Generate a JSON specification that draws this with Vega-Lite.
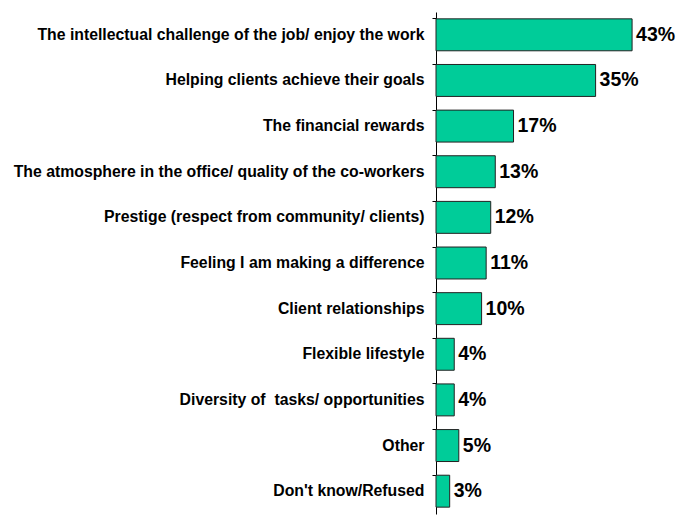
{
  "$schema": "https://vega.github.io/schema/vega-lite/v6.json",
  "autosize": "none",
  "padding": {"left": 436, "top": 12, "right": 13, "bottom": 1},
  "width": 228,
  "height": 502,
  "background": "white",
  "data": {"values": [
    {"reason": "The intellectual challenge of the job/ enjoy the work", "pct": 43, "label": "43%"},
    {"reason": "Helping clients achieve their goals", "pct": 35, "label": "35%"},
    {"reason": "The financial rewards", "pct": 17, "label": "17%"},
    {"reason": "The atmosphere in the office/ quality of the co-workers", "pct": 13, "label": "13%"},
    {"reason": "Prestige (respect from community/ clients)", "pct": 12, "label": "12%"},
    {"reason": "Feeling I am making a difference", "pct": 11, "label": "11%"},
    {"reason": "Client relationships", "pct": 10, "label": "10%"},
    {"reason": "Flexible lifestyle", "pct": 4, "label": "4%"},
    {"reason": "Diversity of\u00a0 tasks/ opportunities", "pct": 4, "label": "4%"},
    {"reason": "Other", "pct": 5, "label": "5%"},
    {"reason": "Don't know/Refused", "pct": 3, "label": "3%"}
  ]},
  "encoding": {
    "y": {"field": "reason", "type": "nominal", "sort": null,
      "scale": {"paddingInner": 0.3, "paddingOuter": 0.15},
      "axis": {"title": null, "domainColor": "black", "tickColor": "black", "tickSize": 4, "bandPosition": 0,
        "labelFont": "Liberation Sans", "labelFontWeight": "bold", "labelFontSize": 15.8, "labelColor": "black",
        "labelPadding": 8, "labelLimit": 0, "grid": false}},
    "x": {"field": "pct", "type": "quantitative", "scale": {"domain": [0, 50]}, "axis": null}
  },
  "layer": [
    {"mark": {"type": "bar", "color": "#00CC99", "stroke": "#222222", "strokeWidth": 1}},
    {"mark": {"type": "text", "align": "left", "dx": 4, "font": "Liberation Sans", "fontWeight": "bold", "fontSize": 19.5, "color": "black"},
      "encoding": {"text": {"field": "label"}}}
  ],
  "config": {"view": {"stroke": null}}
}
